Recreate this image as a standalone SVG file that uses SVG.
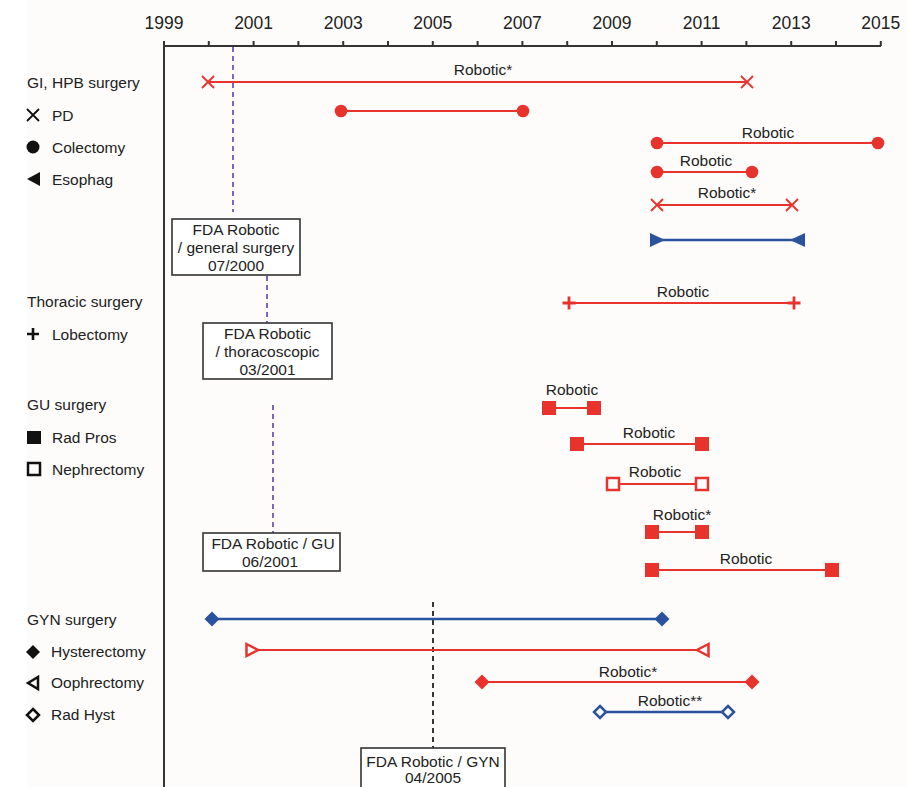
<svg xmlns="http://www.w3.org/2000/svg" width="907" height="787" viewBox="0 0 907 787">
<defs>
<style>
text{font-family:"Liberation Sans",Arial,sans-serif;font-size:15.5px;fill:#222}
.yr{font-size:17.5px;text-anchor:middle}
.c{text-anchor:middle}
.ax{stroke:#333;stroke-width:2;fill:none}
.r{stroke:#e8322c;stroke-width:2.2;fill:none}
.b{stroke:#2b529c;stroke-width:2.4;fill:none}
.rf{fill:#e8322c}
.bf{fill:#2b529c}
.ro{fill:#fff;stroke:#e8322c;stroke-width:2.5}
.bo{fill:#fff;stroke:#2b529c;stroke-width:2.5}
.k{fill:#111}
.ko{fill:none;stroke:#111;stroke-width:2.5}
.pd{stroke:#8064bd;stroke-width:2;stroke-dasharray:5 4;fill:none}
.kd{stroke:#222;stroke-width:1.8;stroke-dasharray:5 4;fill:none}
.box{fill:#fff;stroke:#333;stroke-width:1.6}
</style>
<g id="mx"><path d="M-6,-6L6,6M6,-6L-6,6" stroke="#e8322c" stroke-width="1.8"/></g>
<g id="mplus"><path d="M-6.5,0H6.5M0,-6.5V6.5" stroke="#e8322c" stroke-width="2.8"/></g>
<circle id="mc" r="6.3" class="rf"/>
<rect id="ms" x="-7" y="-7" width="14" height="14" class="rf"/>
<rect id="mso" x="-6" y="-6" width="12" height="12" class="ro"/>
<path id="mdb" d="M0,-7.5L7.5,0L0,7.5L-7.5,0Z" class="bf"/>
<path id="mdr" d="M0,-7.5L7.5,0L0,7.5L-7.5,0Z" class="rf"/>
<path id="mdbo" d="M0,-6L6,0L0,6L-6,0Z" class="bo"/>
</defs>
<rect x="0" y="0" width="907" height="787" fill="#fff"/>
<rect x="27" y="0" width="880" height="787" fill="#fdfcfb"/>

<g id="axis">
<path class="ax" d="M164,46H881M164,46V787"/>
<path class="ax" stroke-width="1.6" d="M164,41V46M208.8,41V46M253.6,41V46M298.4,41V46M343.2,41V46M388,41V46M432.8,41V46M477.6,41V46M522.4,41V46M567.2,41V46M612,41V46M656.8,41V46M701.6,41V46M746.4,41V46M791.2,41V46M836,41V46M880.8,41V46"/>
<text class="yr" x="164" y="29">1999</text>
<text class="yr" x="253.6" y="29">2001</text>
<text class="yr" x="343.2" y="29">2003</text>
<text class="yr" x="432.8" y="29">2005</text>
<text class="yr" x="522.4" y="29">2007</text>
<text class="yr" x="612" y="29">2009</text>
<text class="yr" x="701.6" y="29">2011</text>
<text class="yr" x="791.2" y="29">2013</text>
<text class="yr" x="880.8" y="29">2015</text>
</g>

<g id="legend">
<text x="27" y="88">GI, HPB surgery</text>
<path d="M27,109L39,121M39,109L27,121" stroke="#111" stroke-width="1.8"/>
<text x="52" y="121">PD</text>
<circle cx="33" cy="147" r="6.5" class="k"/>
<text x="52" y="153">Colectomy</text>
<path d="M27,179L40,172V186Z" class="k"/>
<text x="52" y="185">Esophag</text>
<text x="27" y="307">Thoracic surgery</text>
<path d="M27,334H39M33,328V340" stroke="#111" stroke-width="2.6"/>
<text x="52" y="340">Lobectomy</text>
<text x="27" y="410">GU surgery</text>
<rect x="27" y="431" width="14" height="13" class="k"/>
<text x="52" y="443">Rad Pros</text>
<rect x="28" y="463" width="12" height="12" class="ko"/>
<text x="52" y="475">Nephrectomy</text>
<text x="27" y="625">GYN surgery</text>
<path d="M33,645L40,652L33,659L26,652Z" class="k"/>
<text x="51" y="657">Hysterectomy</text>
<path d="M28,683L38,677V689Z" class="ko" stroke-linejoin="miter"/>
<text x="51" y="688">Oophrectomy</text>
<path d="M33,709L39,715L33,721L27,715Z" class="ko"/>
<text x="51" y="720">Rad Hyst</text>
</g>

<g id="connectors">
<path class="pd" d="M233,47V212"/>
<path class="pd" d="M267,276V323"/>
<path class="pd" d="M273,405V533"/>
<path class="kd" d="M433,602V748"/>
</g>

<g id="fda-general">
<rect x="172" y="219" width="128" height="56" class="box"/>
<text class="c" x="236" y="235">FDA Robotic</text>
<text class="c" x="236" y="253">/ general surgery</text>
<text class="c" x="236" y="271">07/2000</text>
</g>
<g id="fda-thoracic">
<rect x="203" y="323" width="129" height="56" class="box"/>
<text class="c" x="267.5" y="339">FDA Robotic</text>
<text class="c" x="267.5" y="357">/ thoracoscopic</text>
<text class="c" x="267.5" y="375">03/2001</text>
</g>
<g id="fda-gu">
<rect x="203" y="533" width="137" height="38" class="box"/>
<text class="c" x="273" y="549">FDA Robotic / GU</text>
<text class="c" x="270" y="567">06/2001</text>
</g>
<g id="fda-gyn">
<rect x="361" y="748" width="144" height="45" class="box"/>
<text class="c" x="433" y="767">FDA Robotic / GYN</text>
<text class="c" x="433" y="783">04/2005</text>
</g>

<g id="pd1">
<path class="r" d="M208,82H747"/>
<use href="#mx" x="208" y="82"/><use href="#mx" x="747" y="82"/>
<text class="c" x="483" y="75">Robotic*</text>
</g>
<g id="col1">
<path class="r" d="M341,111H523"/>
<use href="#mc" x="341" y="111"/><use href="#mc" x="523" y="111"/>
</g>
<g id="col2">
<path class="r" d="M657,143H878"/>
<use href="#mc" x="657" y="143"/><use href="#mc" x="878" y="143"/>
<text class="c" x="768" y="138">Robotic</text>
</g>
<g id="col3">
<path class="r" d="M657,172H752"/>
<use href="#mc" x="657" y="172"/><use href="#mc" x="752" y="172"/>
<text class="c" x="706" y="166">Robotic</text>
</g>
<g id="pd2">
<path class="r" d="M657,205H792"/>
<use href="#mx" x="657" y="205"/><use href="#mx" x="792" y="205"/>
<text class="c" x="727" y="198">Robotic*</text>
</g>
<g id="esophag">
<path class="b" d="M652,240H803"/>
<path class="bf" d="M650,233L665,240L650,247Z"/>
<path class="bf" d="M805,233L790,240L805,247Z"/>
</g>
<g id="lobectomy">
<path class="r" d="M569,303H794"/>
<use href="#mplus" x="569" y="303"/><use href="#mplus" x="794" y="303"/>
<text class="c" x="683" y="297">Robotic</text>
</g>
<g id="radpros1">
<path class="r" d="M549,408H594"/>
<use href="#ms" x="549" y="408"/><use href="#ms" x="594" y="408"/>
<text class="c" x="572" y="395">Robotic</text>
</g>
<g id="radpros2">
<path class="r" d="M577,444H702"/>
<use href="#ms" x="577" y="444"/><use href="#ms" x="702" y="444"/>
<text class="c" x="649" y="438">Robotic</text>
</g>
<g id="nephrectomy">
<path class="r" d="M613,484H702"/>
<use href="#mso" x="613" y="484"/><use href="#mso" x="702" y="484"/>
<text class="c" x="655" y="477">Robotic</text>
</g>
<g id="radpros3">
<path class="r" d="M652,532H702"/>
<use href="#ms" x="652" y="532"/><use href="#ms" x="702" y="532"/>
<text class="c" x="682" y="520">Robotic*</text>
</g>
<g id="radpros4">
<path class="r" d="M652,570H832"/>
<use href="#ms" x="652" y="570"/><use href="#ms" x="832" y="570"/>
<text class="c" x="746" y="564">Robotic</text>
</g>
<g id="hyst1">
<path class="b" d="M212,619H662"/>
<use href="#mdb" x="212" y="619"/><use href="#mdb" x="662" y="619"/>
</g>
<g id="ooph">
<path class="r" d="M258,650H697"/>
<path class="ro" d="M246.5,644L258,650L246.5,656Z"/>
<path class="ro" d="M708.5,644L697,650L708.5,656Z"/>
</g>
<g id="hyst2">
<path class="r" d="M482,682H752"/>
<use href="#mdr" x="482" y="682"/><use href="#mdr" x="752" y="682"/>
<text class="c" x="628" y="677">Robotic*</text>
</g>
<g id="radhyst">
<path class="b" d="M606,712H722"/>
<use href="#mdbo" x="600" y="712"/><use href="#mdbo" x="728" y="712"/>
<text class="c" x="670" y="706">Robotic**</text>
</g>
</svg>
